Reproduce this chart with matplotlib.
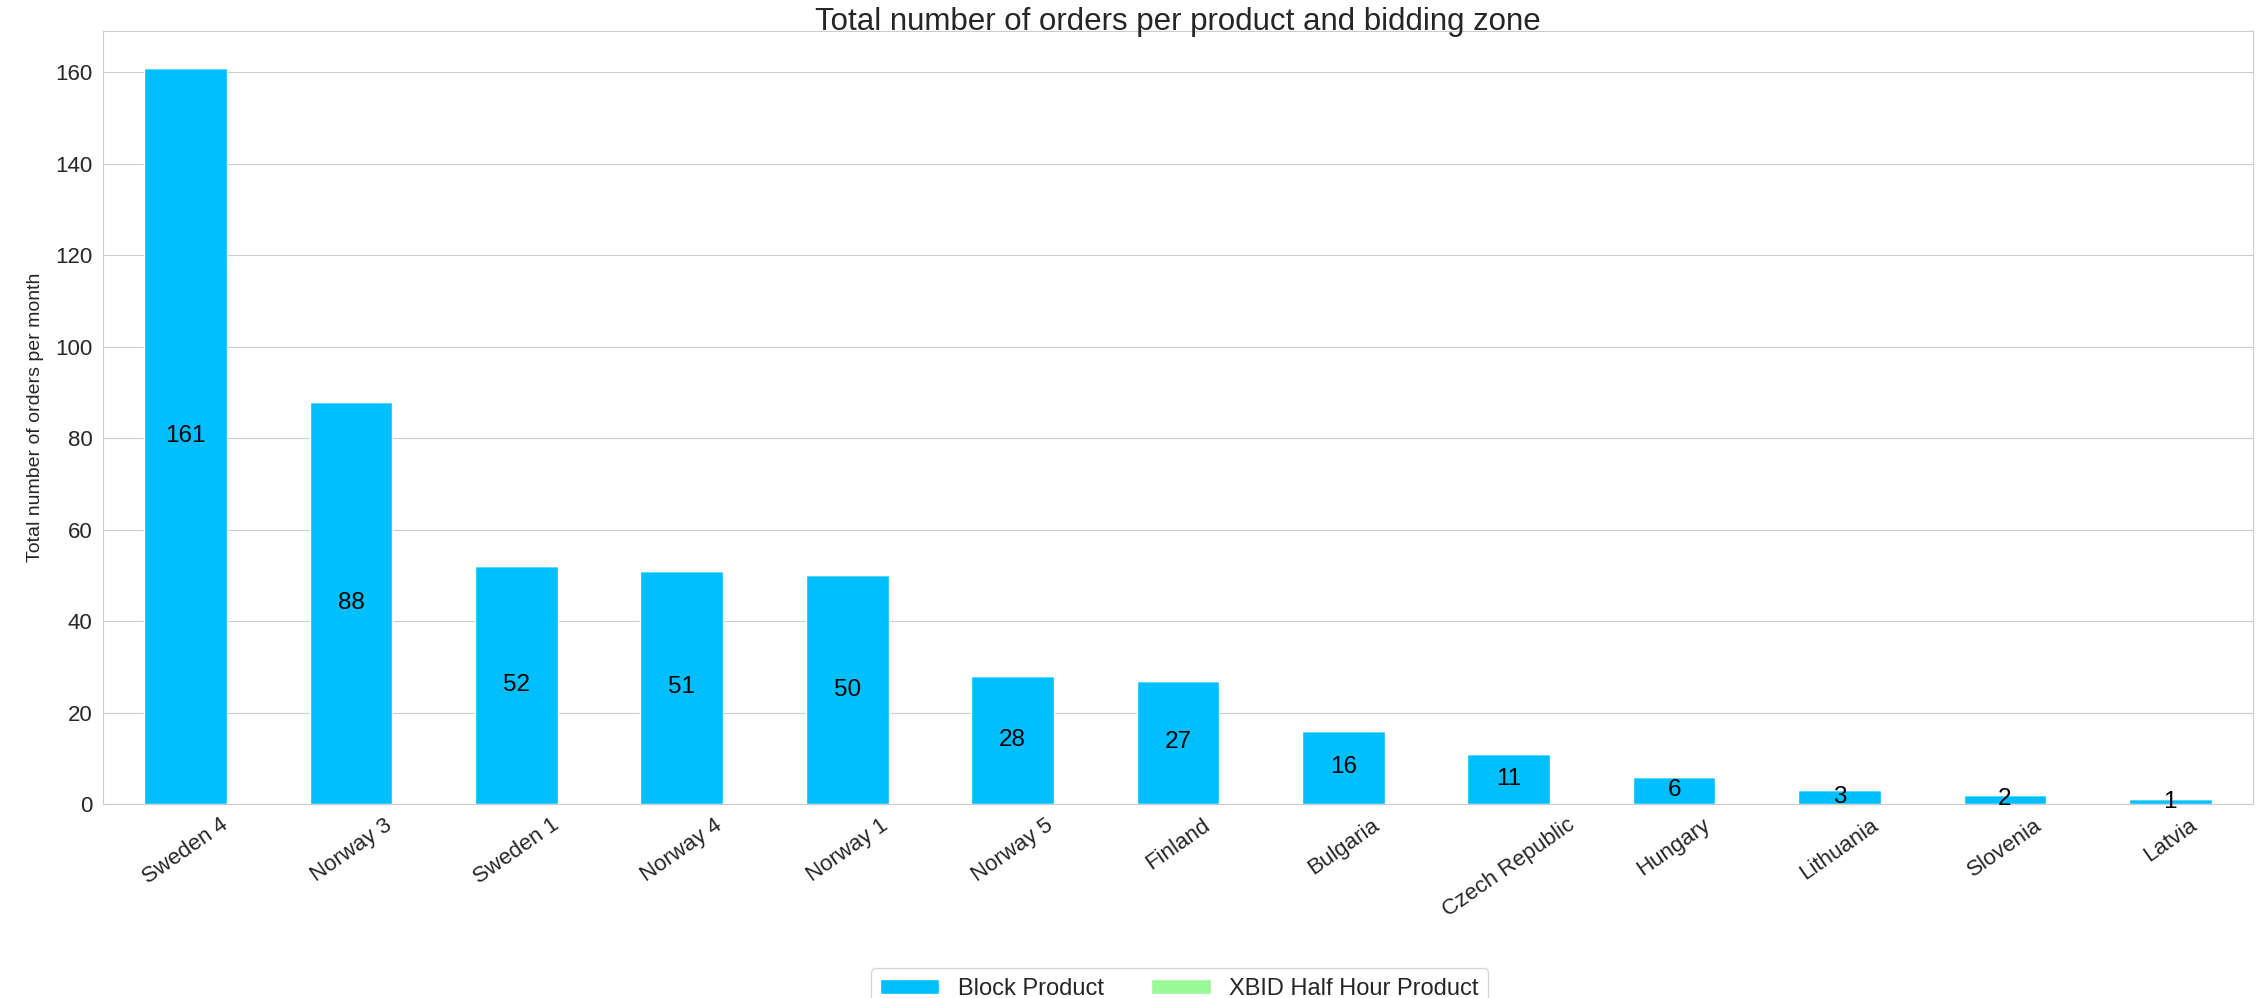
import numpy as np
import matplotlib
matplotlib.use("Agg")
import matplotlib.pyplot as plt
import seaborn as sns

zones = ["Sweden 4", "Norway 3", "Sweden 1", "Norway 4", "Norway 1", "Norway 5",
         "Finland", "Bulgaria", "Czech Republic", "Hungary", "Lithuania",
         "Slovenia", "Latvia"]
block_product = [161, 88, 52, 51, 50, 28, 27, 16, 11, 6, 3, 2, 1]
xbid_half_hour = [0, 0, 0, 0, 0, 0, 0, 0, 0, 0, 0, 0, 0]

sns.set_style("whitegrid")
plt.rcParams['font.family'] = ['Liberation Sans', 'DejaVu Sans']

fig = plt.figure(figsize=(22.62, 9.98), dpi=100)
ax = fig.add_axes([0.0455, 0.1944, 0.9505, 0.7746])

x = np.arange(len(zones))
b1 = ax.bar(x, block_product, width=0.5, color="#00BFFF", label="Block Product")
b2 = ax.bar(x, xbid_half_hour, width=0.5, bottom=block_product,
            color="#98FB98", label="XBID Half Hour Product")

ax.bar_label(b1, label_type="center", fontsize=17.5, color="black")

ax.set_xlim(-0.5, len(zones) - 0.5)
ax.set_ylim(0, max(block_product) * 1.05)
ax.set_yticks(np.arange(0, 161, 20))
ax.set_xticks(x)
ax.set_xticklabels(zones, rotation=35, ha="center")
ax.tick_params(axis="both", labelsize=16, colors="#262626", pad=4)
ax.xaxis.grid(False)

ax.set_ylabel("Total number of orders per month", fontsize=14, color="#262626", labelpad=8)
ax.set_title("Total number of orders per product and bidding zone", fontsize=22.5,
             color="#262626", pad=1)

fig.legend(handles=[b1, b2], loc="upper center", bbox_to_anchor=(0.5215, 0.030),
           bbox_transform=fig.transFigure, ncol=2, fontsize=17, frameon=True,
           borderaxespad=0, handlelength=2.5, handleheight=0.6)

fig.savefig("out.png", dpi=100)
